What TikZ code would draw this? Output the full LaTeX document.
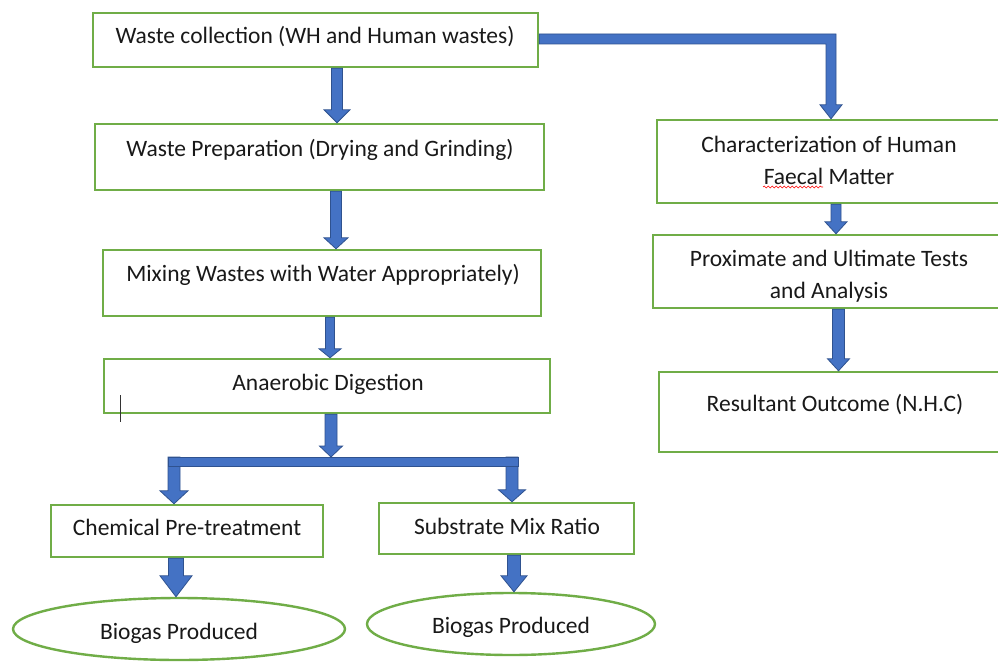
\documentclass[tikz,border=0pt]{standalone}
\usepackage{fontspec}
\setmainfont{Carlito}
\usetikzlibrary{calc,decorations.pathmorphing,shapes.geometric}
\definecolor{grn}{HTML}{70AD47}
\definecolor{bfill}{HTML}{4472C4}
\definecolor{bdraw}{HTML}{2F528F}
\tikzset{
  box/.style={draw=grn, line width=2.4pt, rectangle, inner sep=0pt},
  oval/.style={draw=grn, line width=2.4pt, ellipse, inner sep=0pt},
  txt/.style={font=\fontsize{23.5}{31.5}\selectfont, text=black!90, inner sep=0pt, text height=0.75em, text depth=0.25em},
  txttwo/.style={font=\fontsize{23.5}{32}\selectfont, text=black!90, inner sep=0pt, align=center},
  barrow/.style={fill=bfill, draw=bdraw, line width=0.8pt, line join=miter},
}
% vertical block arrow: x, from, to, shaft half, head half, head length
\newcommand\varr[6]{%
  \path[barrow] let \p3=(#1,0), \p1=(#2), \p2=(#3) in
  (\x3-#4pt,\y1) -- (\x3-#4pt,\y2+#6pt) -- (\x3-#5pt,\y2+#6pt) -- (\x3,\y2)
  -- (\x3+#5pt,\y2+#6pt) -- (\x3+#4pt,\y2+#6pt) -- (\x3+#4pt,\y1) -- cycle;}
\begin{document}
\begin{tikzpicture}[x=1pt,y=-1pt]
\useasboundingbox (0,0) rectangle (998,661);
\fill[white] (0,0) rectangle (998,661);
\clip (0,0) rectangle (998,661);

% left column boxes
\node[box, minimum width=445pt, minimum height=54pt] (b1) at (315.5,40) {};
\node[box, minimum width=449pt, minimum height=66pt] (b2) at (319.5,157) {};
\node[box, minimum width=438pt, minimum height=66pt] (b3) at (322,283) {};
\node[box, minimum width=446pt, minimum height=54pt] (b4) at (327,386) {};
\node[box, minimum width=272pt, minimum height=52pt] (b5) at (187,531) {};
\node[box, minimum width=255pt, minimum height=51pt] (b6) at (506.5,528.5) {};
\node[oval, minimum width=332pt, minimum height=62pt] (e1) at (179,629) {};
\node[oval, minimum width=288pt, minimum height=62pt] (e2) at (511,624) {};

% right column boxes
\node[box, minimum width=344pt, minimum height=83pt] (rA) at (829,161.5) {};
\node[box, minimum width=352pt, minimum height=73pt] (rB) at (829,271.5) {};
\node[box, minimum width=352pt, minimum height=80pt] (rC) at (835,412) {};

% texts
\node[txt] (t1) at (315,41.5) {Waste collection (WH and Human wastes)};
\node[txt] (t2) at (320,153.5) {Waste Preparation (Drying and Grinding)};
\node[txt] (t3) at (323,278.5) {Mixing Wastes with Water Appropriately)};
\node[txt] (t4) at (328,387.5) {Anaerobic Digestion};
\node[txt] (t5) at (187,532.5) {Chemical Pre-treatment};
\node[txt] (t6) at (507,531.5) {Substrate Mix Ratio};
\node[txt] (t7) at (179,636.5) {Biogas Produced};
\node[txt] (t8) at (511,630.5) {Biogas Produced};
\node[txttwo] (tA) at (829,160) {Characterization of Human\\Faecal Matter};
\node[txttwo] (tB) at (829,276) {Proximate and Ultimate Tests\\and Analysis};
\node[txt] (tC) at (835,408.5) {Resultant Outcome (N.H.C)};

% spell-check squiggle and text cursor
\draw[red, line width=0.6pt, decorate, decoration={snake, amplitude=0.9pt, segment length=4pt}] (763,187) -- (823,187);
\draw[black!80, line width=1pt] (120,395) -- (120,422);

% arrows left column
\varr{337}{b1.south}{b2.north}{5.5}{13}{13}
\varr{336}{b2.south}{b3.north}{5.5}{12}{11}
\varr{330}{b3.south}{b4.north}{4.5}{11}{9}
\coordinate (barL) at (168,457);
\coordinate (barR) at (518,466);
\coordinate (barT) at (331,457);
\varr{174}{barL}{b5.north}{6}{14}{13}
\varr{512}{barL}{b6.north}{6}{13.5}{12}
\path[barrow] (barL) rectangle (barR);
\varr{331}{b4.south}{barT}{6}{11.5}{11}
\varr{176}{b5.south}{e1.north}{7.5}{16}{21}
\varr{514}{b6.south}{e2.north}{6.5}{13}{16}

% elbow connector to right column
\path[barrow] let \p1=(b1.east), \p2=(rA.north), \p3=(831,39) in
  (\x1,\y3+5pt) -- (\x3+5pt,\y3+5pt) -- (\x3+5pt,\y2+14pt) -- (\x3+11pt,\y2+14pt)
  -- (\x3,\y2) -- (\x3-11pt,\y2+14pt) -- (\x3-5pt,\y2+14pt) -- (\x3-5pt,\y3-5pt)
  -- (\x1,\y3-5pt) -- cycle;

% arrows right column
\varr{836}{rA.south}{rB.north}{5}{11}{12}
\varr{838.5}{rB.south}{rC.north}{6}{11}{12}
\end{tikzpicture}
\end{document}
